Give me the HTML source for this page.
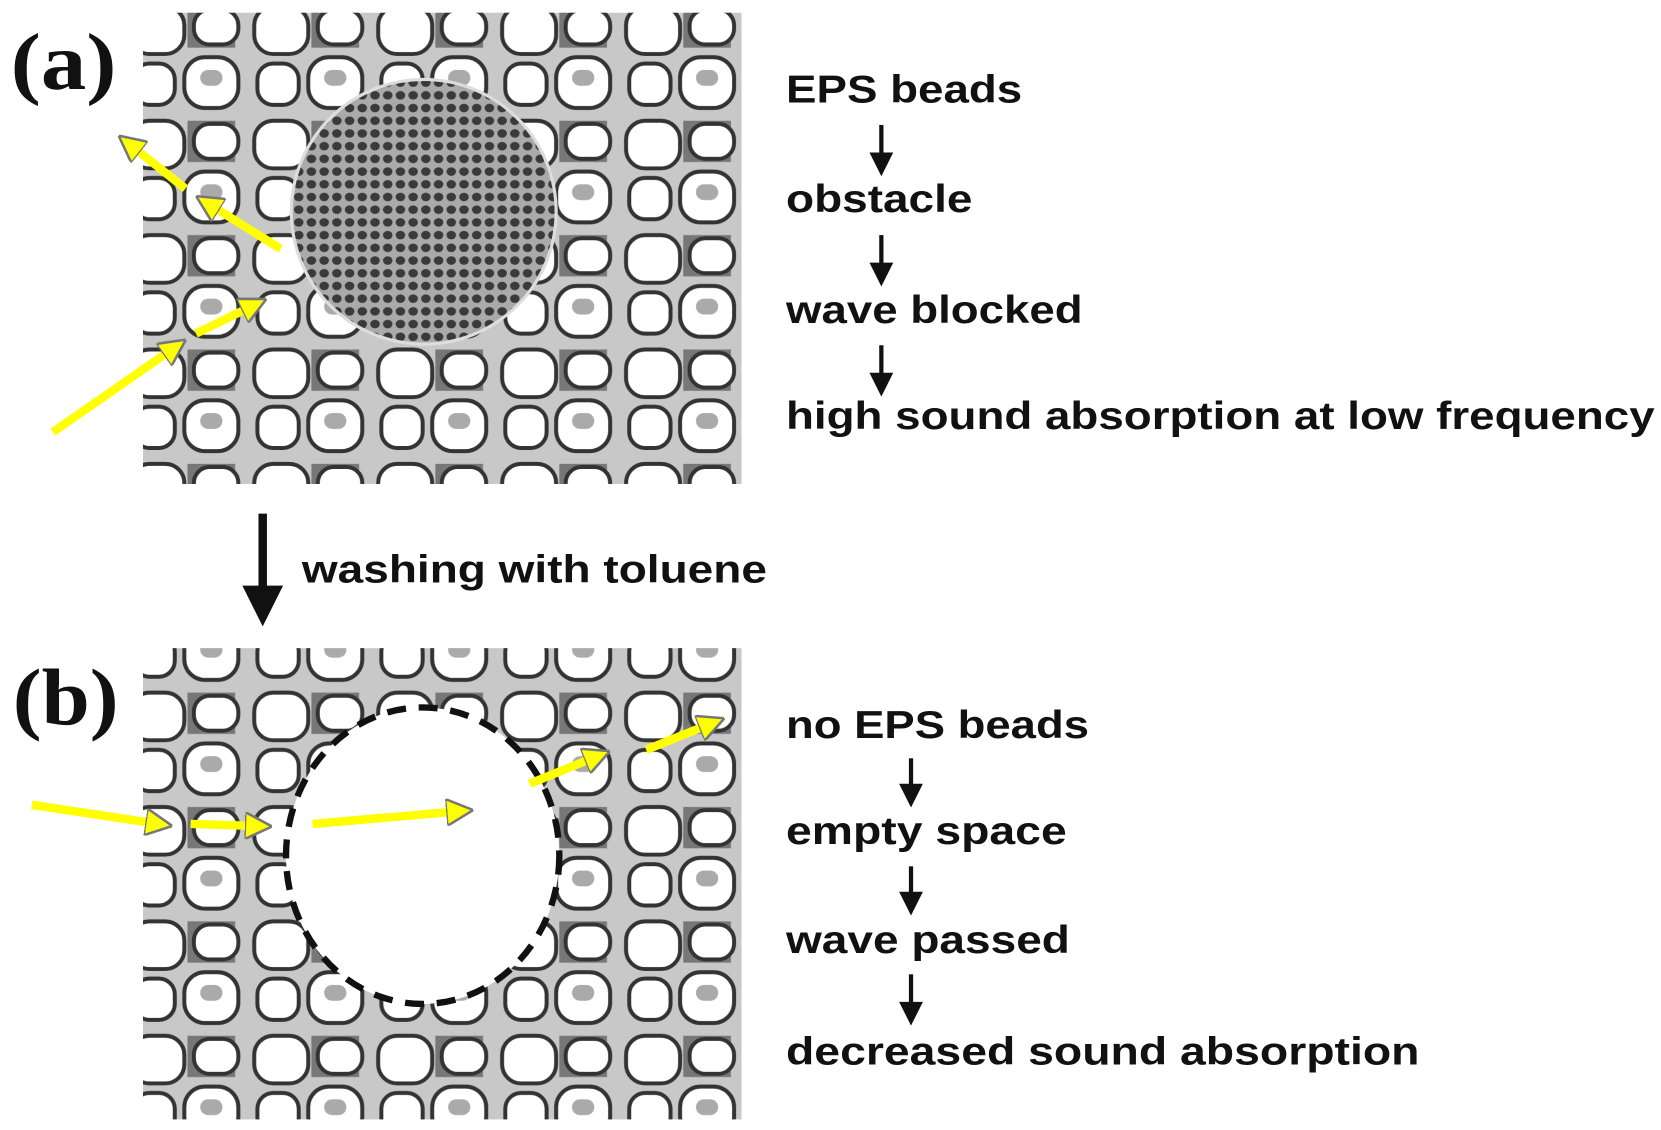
<!DOCTYPE html>
<html><head><meta charset="utf-8"><style>
html,body{margin:0;padding:0;background:#fff;}
svg{display:block;}
</style></head><body>
<svg width="1661" height="1130" viewBox="0 0 1568 1067" preserveAspectRatio="none" xmlns="http://www.w3.org/2000/svg">
<defs>
<pattern id="foam" width="78" height="72" patternUnits="userSpaceOnUse" patternTransform="scale(1.5)">
<rect width="78" height="72" fill="#c8c8c8"/>
<rect x="40" y="4" width="30" height="26" fill="#777"/>
<rect x="4" y="4" width="34" height="30" rx="12" fill="#fff" stroke="#333" stroke-width="2.5"/>
<rect x="44" y="6" width="28" height="22" rx="10" fill="#fff" stroke="#333" stroke-width="2.5"/>
<rect x="6" y="40" width="26" height="26" rx="10" fill="#fff" stroke="#333" stroke-width="2.5"/>
<rect x="38" y="36" width="34" height="32" rx="13" fill="#fff" stroke="#333" stroke-width="2.5"/>
<rect x="48" y="44" width="14" height="10" rx="5" fill="#aaa"/>
</pattern>
<pattern id="dots" width="12" height="12" patternUnits="userSpaceOnUse">
<rect width="12" height="12" fill="#aaa"/>
<ellipse cx="6" cy="6" rx="4.5" ry="4" fill="#3a3a3a"/>
</pattern>
<marker id="ya" markerWidth="3.2" markerHeight="3.2" refX="1.6" refY="1.6" orient="auto" markerUnits="strokeWidth"><path d="M0,0 L3.2,1.6 L0,3.2 z" fill="#ffff00" stroke="#777" stroke-width="0.3"/></marker>
</defs>
<rect x="135" y="12" width="565" height="445" fill="url(#foam)"/>
<circle cx="400" cy="200" r="125" fill="url(#dots)" stroke="#ddd" stroke-width="3"/>
<rect x="135" y="612" width="565" height="445" fill="url(#foam)"/>
<ellipse cx="399" cy="808" rx="129" ry="140" fill="#fff" stroke="#111" stroke-width="6" stroke-dasharray="18 12"/>
<g stroke="#ffff00" stroke-width="8" fill="none" marker-end="url(#ya)">
<line x1="50" y1="408" x2="165" y2="328"/>
<line x1="185" y1="315" x2="240" y2="288"/>
<line x1="265" y1="235" x2="196" y2="192"/>
<line x1="175" y1="178" x2="122" y2="136"/>
<line x1="30" y1="760" x2="150" y2="778"/>
<line x1="180" y1="778" x2="244" y2="780"/>
<line x1="295" y1="778" x2="434" y2="766"/>
<line x1="500" y1="740" x2="564" y2="714"/>
<line x1="610" y1="708" x2="672" y2="683"/>
</g>
<g font-family="Liberation Serif, serif" font-weight="bold" font-size="76" fill="#111">
<text x="10" y="84" textLength="100" lengthAdjust="spacingAndGlyphs">(a)</text>
<text x="12" y="684" textLength="100" lengthAdjust="spacingAndGlyphs">(b)</text>
</g>
<g font-family="Liberation Sans, sans-serif" font-weight="bold" font-size="37" fill="#111" lengthAdjust="spacingAndGlyphs">
<text x="742" y="97" textLength="223" lengthAdjust="spacingAndGlyphs">EPS beads</text>
<text x="742" y="200" textLength="176" lengthAdjust="spacingAndGlyphs">obstacle</text>
<text x="742" y="305" textLength="280" lengthAdjust="spacingAndGlyphs">wave blocked</text>
<text x="742" y="405" textLength="820" lengthAdjust="spacingAndGlyphs">high sound absorption at low frequency</text>
<text x="285" y="550" textLength="439" lengthAdjust="spacingAndGlyphs">washing with toluene</text>
<text x="742" y="697" textLength="286" lengthAdjust="spacingAndGlyphs">no EPS beads</text>
<text x="742" y="797" textLength="265" lengthAdjust="spacingAndGlyphs">empty space</text>
<text x="742" y="900" textLength="268" lengthAdjust="spacingAndGlyphs">wave passed</text>
<text x="742" y="1005" textLength="598" lengthAdjust="spacingAndGlyphs">decreased sound absorption</text>
</g>
<g stroke="#111" stroke-width="4" fill="#111">
<line x1="832" y1="118" x2="832" y2="150"/><path d="M824,146 L840,146 L832,162 z"/>
<line x1="832" y1="222" x2="832" y2="254"/><path d="M824,250 L840,250 L832,266 z"/>
<line x1="832" y1="326" x2="832" y2="358"/><path d="M824,354 L840,354 L832,370 z"/>
<line x1="860" y1="716" x2="860" y2="746"/><path d="M852,742 L868,742 L860,758 z"/>
<line x1="860" y1="818" x2="860" y2="848"/><path d="M852,844 L868,844 L860,860 z"/>
<line x1="860" y1="920" x2="860" y2="952"/><path d="M852,948 L868,948 L860,964 z"/>
<line x1="248" y1="485" x2="248" y2="560" stroke-width="8"/><path d="M232,555 L264,555 L248,587 z"/>
</g>
</svg>
</body></html>
